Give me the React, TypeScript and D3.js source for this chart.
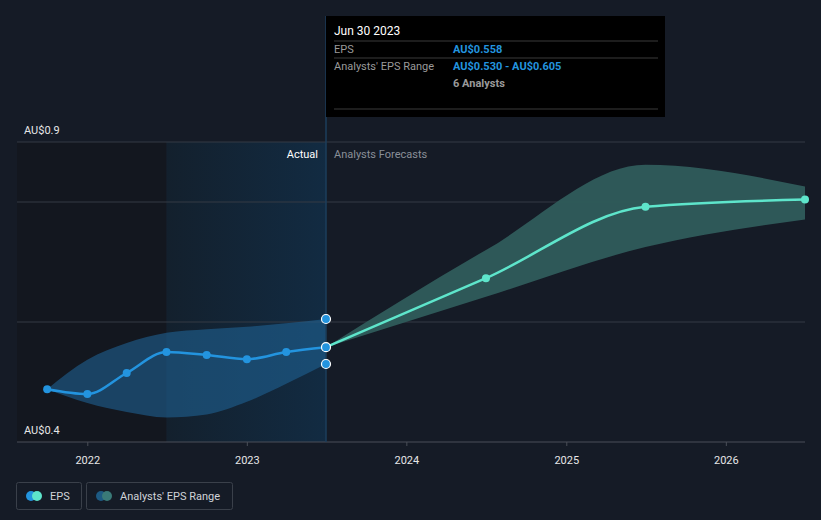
import React from 'react'
import * as d3 from 'd3'

// EPS history (quarterly, trailing) and analysts' forecasts
const actualDates = ['2021-09-30', '2021-12-31', '2022-03-31', '2022-06-30', '2022-09-30', '2022-12-31', '2023-03-31', '2023-06-30']
const actualEps = [0.488, 0.48, 0.515, 0.55, 0.545, 0.538, 0.55, 0.558]
const actualLow = [0.488, 0.465, 0.45, 0.441, 0.446, 0.467, 0.497, 0.53]
const actualHigh = [0.488, 0.537, 0.565, 0.582, 0.588, 0.592, 0.598, 0.605]

const forecastDates = ['2023-06-30', '2024-06-30', '2025-06-30', '2026-06-30']
const forecastEps = [0.558, 0.673, 0.792, 0.804]
const forecastLow = [0.558, 0.642, 0.725, 0.771]
const forecastHigh = [0.558, 0.72, 0.862, 0.826]

const yearTicks = ['2022', '2023', '2024', '2025', '2026']
const gridValues = [0.9, 0.8, 0.6, 0.4]

const W = 821
const H = 520
const FONT = 'Roboto, "Noto Sans", sans-serif'

export default function App() {
  const parse = d3.timeParse('%Y-%m-%d')
  const x = d3.scaleTime()
    .domain([parse('2021-07-23')!, parse('2026-06-30')!])
    .range([17, 805])
  const y = d3.scaleLinear().domain([0.4, 0.9]).range([442, 142])

  const act = actualDates.map((d, i) => ({ t: parse(d)!, v: actualEps[i], lo: actualLow[i], hi: actualHigh[i] }))
  const fc = forecastDates.map((d, i) => ({ t: parse(d)!, v: forecastEps[i], lo: forecastLow[i], hi: forecastHigh[i] }))

  const line = d3.line<any>().x(d => x(d.t)).y(d => y(d.v)).curve(d3.curveMonotoneX)
  const band = d3.area<any>().x(d => x(d.t)).y0(d => y(d.lo)).y1(d => y(d.hi)).curve(d3.curveMonotoneX)

  const xNow = x(parse('2023-06-30')!)
  const xPastStart = x(parse('2022-06-30')!)
  const last = act[act.length - 1]

  return (
    <svg width={W} height={H} style={{ position: 'absolute', left: 0, top: 0, background: '#151b26', fontFamily: FONT }}>
      <defs>
        <linearGradient id="pastBg" x1="0" x2="1" y1="0" y2="0">
          <stop offset="0%" stopColor="#13202d" />
          <stop offset="100%" stopColor="#122b42" />
        </linearGradient>
      </defs>
      <rect x={0} y={0} width={W} height={H} fill="#151b26" />
      {/* shaded backgrounds */}
      <rect x={x.range()[0]} y={142} width={xPastStart - x.range()[0]} height={300} fill="#13171f" />
      <rect x={xPastStart} y={142} width={xNow - xPastStart} height={300} fill="url(#pastBg)" />

      {/* grid */}
      {gridValues.map(v => (
        <line key={v} x1={17} x2={805} y1={y(v)} y2={y(v)} stroke={v === 0.4 ? '#4a4f58' : '#343a44'} strokeWidth={1} />
      ))}
      <text x={24} y={y(0.9) - 8} fill="#e6e6e6" fontSize={11}>AU$0.9</text>
      <text x={24} y={y(0.4) - 8} fill="#e6e6e6" fontSize={11}>AU$0.4</text>

      {/* x axis */}
      {yearTicks.map(yr => {
        const xx = x(parse(`${yr}-01-01`)!)
        return (
          <g key={yr}>
            <line x1={xx} x2={xx} y1={442} y2={446} stroke="#4a4f58" />
            <text x={xx} y={464} textAnchor="middle" fill="#e6e6e6" fontSize={11}>{yr}</text>
          </g>
        )
      })}

      {/* bands */}
      <path d={band(act)!} fill="#1f5f8f" fillOpacity={0.62} />
      <path d={band(fc)!} fill="#2f5c5b" fillOpacity={0.95} />

      {/* now line */}
      <line x1={xNow} x2={xNow} y1={16} y2={442} stroke="#1c3e5c" strokeWidth={1.5} />

      <text x={xNow - 8} y={158} textAnchor="end" fill="#ffffff" fontSize={11}>Actual</text>
      <text x={xNow + 8} y={158} fill="#8a8f98" fontSize={11}>Analysts Forecasts</text>

      {/* lines */}
      <path d={line(fc)!} fill="none" stroke="#5ee5cb" strokeWidth={2.5} />
      <path d={line(act)!} fill="none" stroke="#2394df" strokeWidth={2.5} />
      {fc.slice(1).map((d, i) => (
        <circle key={i} cx={x(d.t)} cy={y(d.v)} r={4} fill="#5ee5cb" />
      ))}
      {act.slice(0, -1).map((d, i) => (
        <circle key={i} cx={x(d.t)} cy={y(d.v)} r={4} fill="#2394df" />
      ))}
      {[last.hi, last.v, last.lo].map((v, i) => (
        <circle key={i} cx={x(last.t)} cy={y(v)} r={4.5} fill="#2394df" stroke="#ffffff" strokeWidth={1.2} />
      ))}

      {/* tooltip */}
      <g fontSize={11}>
        <rect x={xNow} y={16} width={339} height={101} fill="#000000" />
        <text x={xNow + 8} y={35} fill="#ffffff" fontSize={12}>Jun 30 2023</text>
        <line x1={xNow + 8} x2={658} y1={41} y2={41} stroke="#3a3a3a" />
        <text x={xNow + 8} y={53} fill="#9a9a9a">EPS</text>
        <text x={453} y={53} fill="#2394df" fontWeight="bold">AU$0.558</text>
        <line x1={xNow + 8} x2={658} y1={58} y2={58} stroke="#3a3a3a" />
        <text x={xNow + 8} y={70} fill="#9a9a9a">Analysts' EPS Range</text>
        <text x={453} y={70} fill="#2394df" fontWeight="bold">AU$0.530 - AU$0.605</text>
        <text x={453} y={87} fill="#9a9a9a" fontWeight="bold">6 Analysts</text>
        <line x1={xNow + 8} x2={658} y1={109} y2={109} stroke="#3a3a3a" />
      </g>

      {/* legend */}
      <g fontSize={11}>
        <rect x={16.5} y={482.5} width={65} height={27} rx={2} fill="none" stroke="#3a404a" />
        <circle cx={31} cy={496} r={5} fill="#2394df" />
        <circle cx={37} cy={496} r={5} fill="#5ee5cb" />
        <text x={50} y={500} fill="#d0d3d8">EPS</text>
        <rect x={86.5} y={482.5} width={146} height={27} rx={2} fill="none" stroke="#3a404a" />
        <circle cx={101} cy={496} r={5} fill="#1d5a83" />
        <circle cx={107} cy={496} r={5} fill="#3a7a78" />
        <text x={120} y={500} fill="#d0d3d8">Analysts' EPS Range</text>
      </g>
    </svg>
  )
}
